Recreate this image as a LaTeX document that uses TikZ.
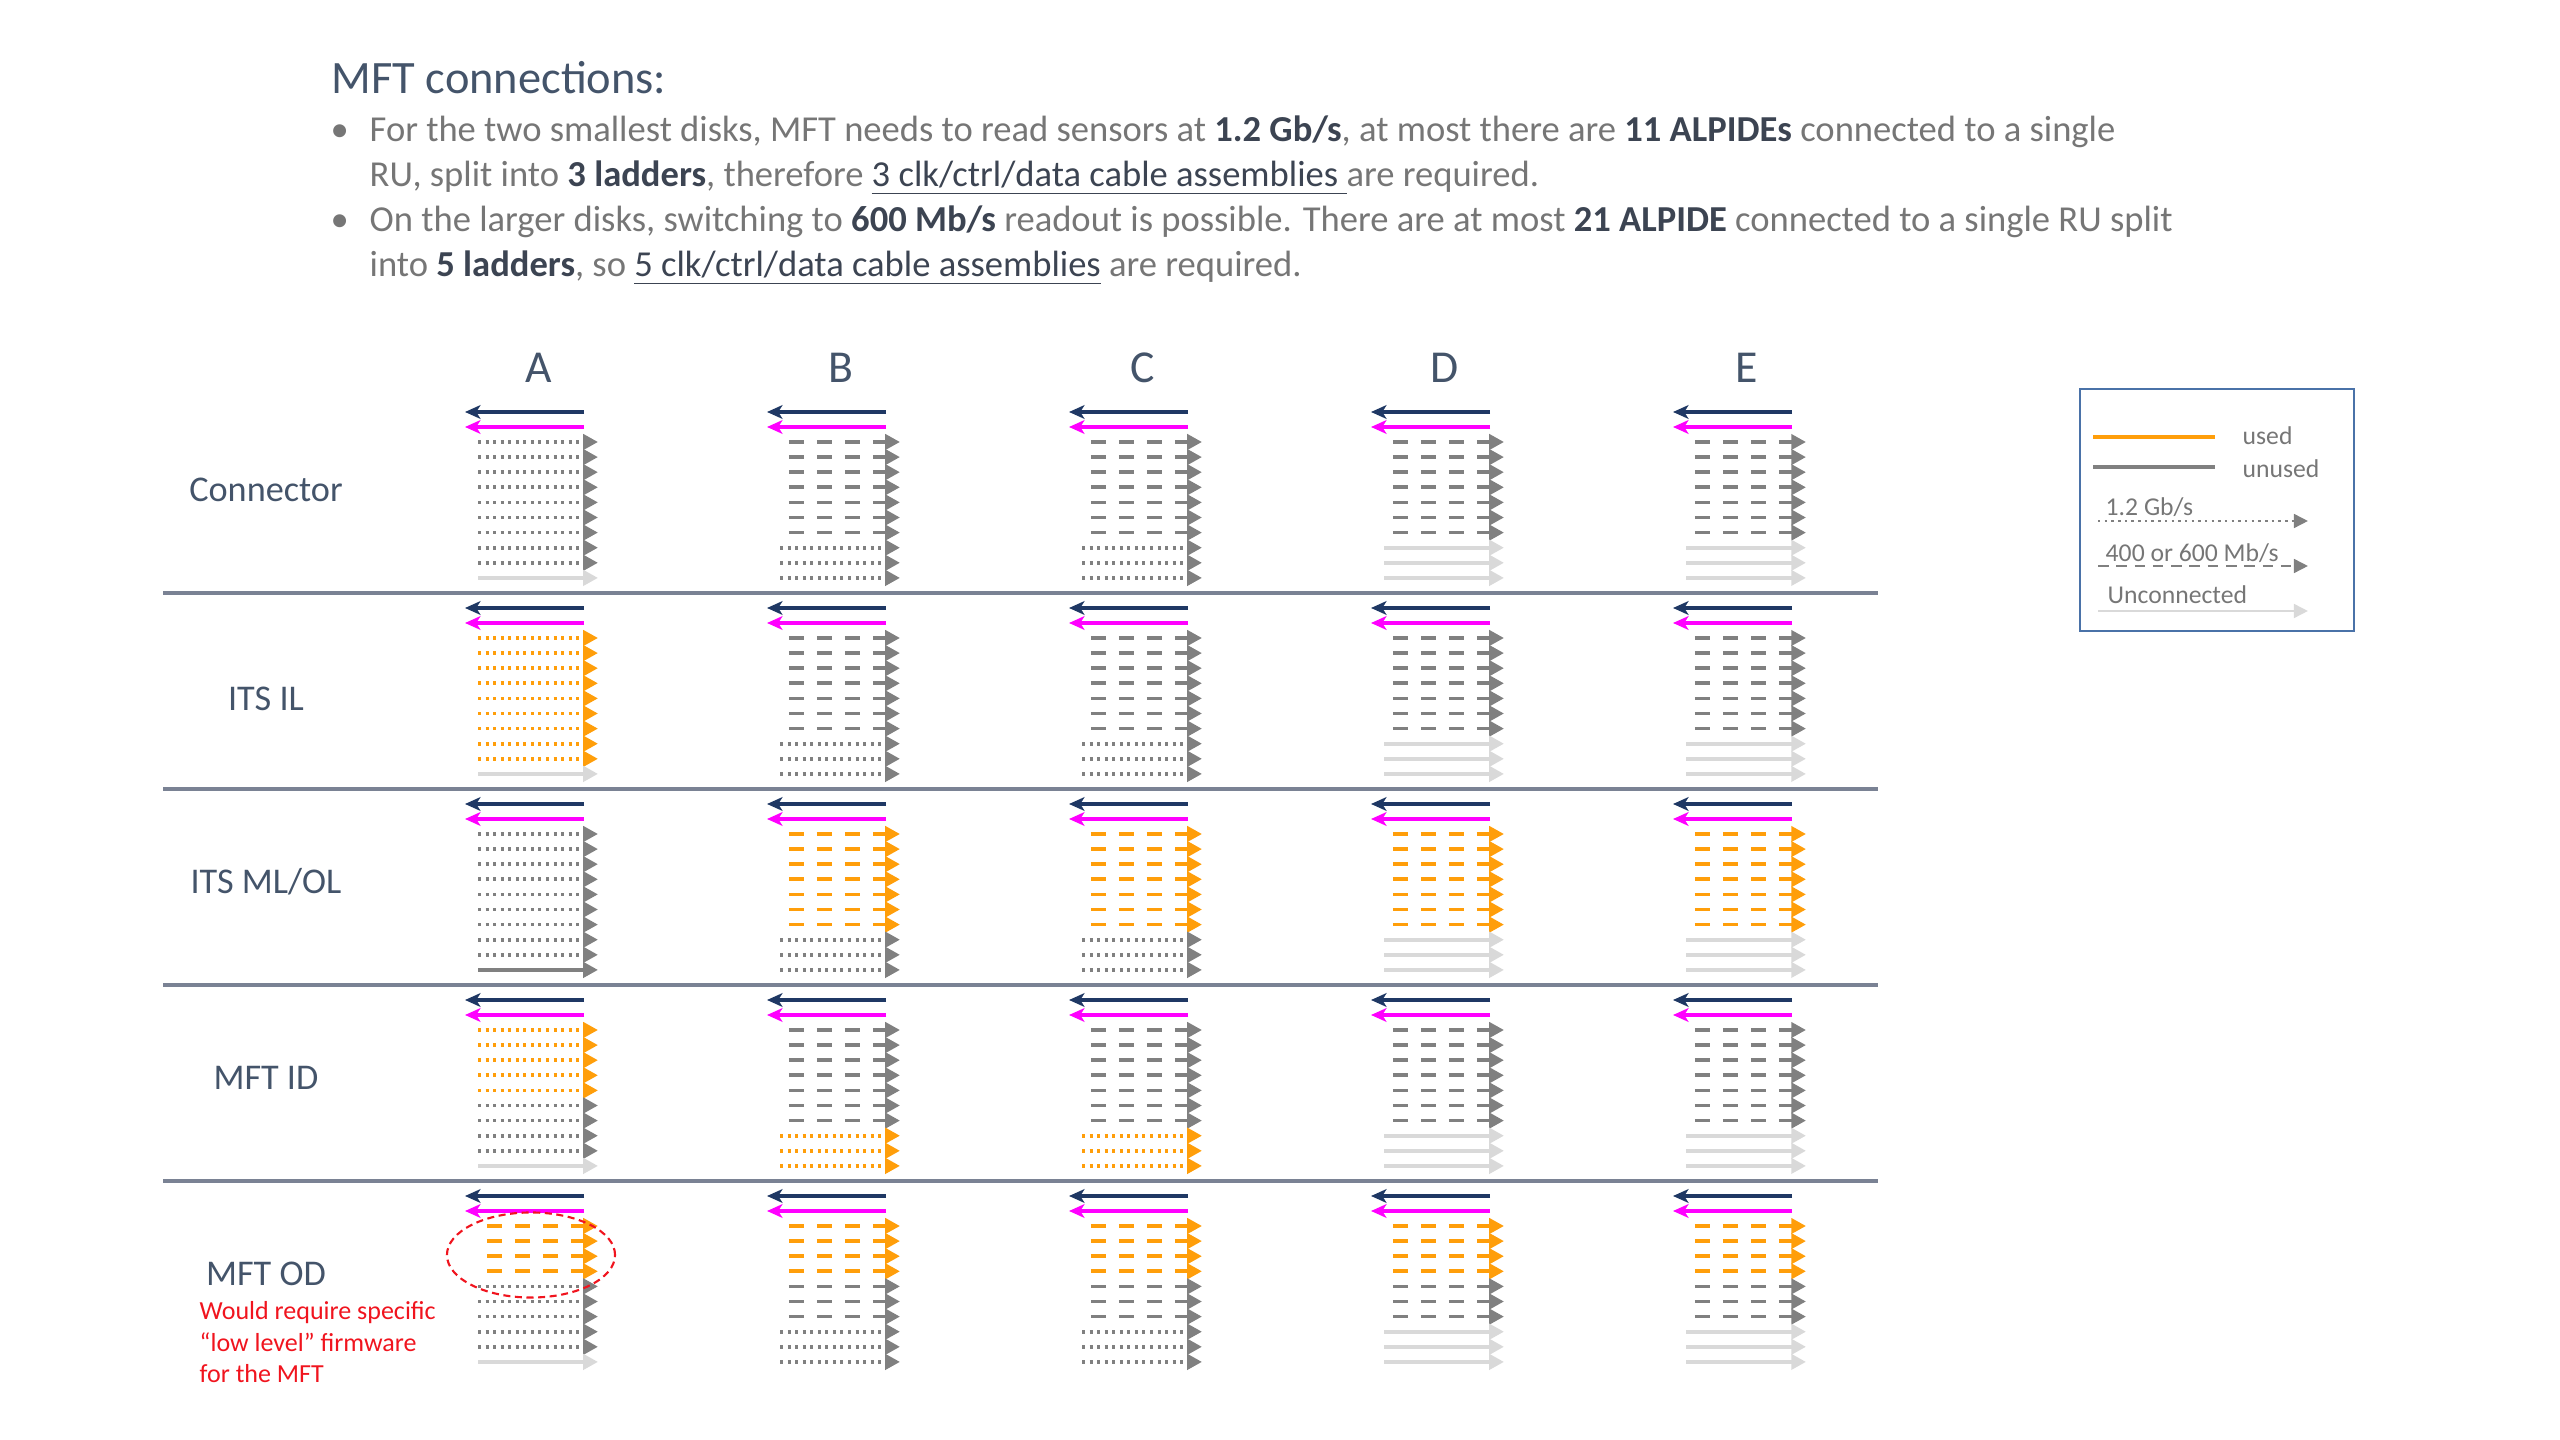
\documentclass[tikz,border=0pt]{standalone}
\usepackage{fontspec}
\setmainfont{Carlito}
\usetikzlibrary{arrows.meta,shapes.geometric}
\definecolor{cnavy}{RGB}{31,56,100}
\definecolor{cmag}{RGB}{255,0,255}
\definecolor{cgray}{RGB}{128,128,128}
\definecolor{clight}{RGB}{217,217,217}
\definecolor{corange}{RGB}{255,158,10}
\definecolor{csep}{RGB}{122,130,148}
\definecolor{ctitle}{RGB}{68,84,106}
\definecolor{ctext}{RGB}{118,118,118}
\definecolor{cdark}{RGB}{60,68,82}
\definecolor{cleg}{RGB}{74,114,168}
\definecolor{cred}{RGB}{240,20,30}
\newcommand{\myb}[1]{{\bfseries\color{cdark}#1}}
\newcommand{\myu}[1]{{\color{cdark}\underline{#1}}}
\newcommand{\mycell}[3]{%
  \pgfmathsetmacro{\xL}{465+302*#1}%
  \pgfmathsetmacro{\yT}{412+196*#2}%
  \coordinate (nv-#1-#2-s) at (\xL+119,\yT);
  \coordinate (nv-#1-#2-e) at (\xL,\yT);
  \draw[navyarr] (nv-#1-#2-s) -- (nv-#1-#2-e);
  \coordinate (mg-#1-#2-s) at (\xL+119,\yT+15);
  \coordinate (mg-#1-#2-e) at (\xL,\yT+15);
  \draw[magarr] (mg-#1-#2-s) -- (mg-#1-#2-e);
  \foreach \st [count=\k from 0] in {#3}{%
    \coordinate (ln-#1-#2-\k-s) at (\xL+13,\yT+30+15.1*\k);
    \coordinate (ln-#1-#2-\k-e) at (\xL+133,\yT+30+15.1*\k);
    \draw[\st] (ln-#1-#2-\k-s) -- (ln-#1-#2-\k-e);
  }%
}
\begin{document}
\begin{tikzpicture}[x=0.01cm,y=-0.01cm,
  basearr/.style={line width=1.05pt,-{Triangle[length=4.2pt,width=4.3pt]}},
  gD/.style={basearr,draw=cgray,dash pattern=on 0.85pt off 1.3pt},
  oD/.style={basearr,draw=corange,dash pattern=on 0.85pt off 1.3pt},
  gS/.style={basearr,draw=cgray,dash pattern=on 4.25pt off 3.7pt,shorten <=2.55pt},
  oS/.style={basearr,draw=corange,dash pattern=on 4.25pt off 3.7pt,shorten <=2.55pt},
  lU/.style={basearr,draw=clight},
  gU/.style={basearr,draw=cgray},
  navyarr/.style={draw=cnavy,line width=1.15pt,-{Stealth[length=4.4pt,width=3.9pt,inset=1.2pt]}},
  magarr/.style={draw=cmag,line width=1.15pt,-{Stealth[length=4.4pt,width=3.9pt,inset=1.2pt]}},
  sepline/.style={draw=csep,line width=1.1pt},
  rowlab/.style={text=ctitle,font=\fontsize{10.3}{12}\selectfont,inner sep=0pt},
  collab/.style={text=ctitle,font=\fontsize{13}{15}\selectfont,inner sep=0pt},
  bul/.style={anchor=base west,inner sep=0pt,text=ctext,font=\fontsize{10.4}{12}\selectfont},
  redtxt/.style={anchor=base west,inner sep=0pt,text=cred,font=\fontsize{7.4}{9}\selectfont},
  legtxt/.style={anchor=west,inner sep=0pt,text=ctext,font=\fontsize{7.3}{9}\selectfont},
  legarr/.style={line width=0.7pt,-{Triangle[length=4pt,width=3.9pt]}}
]
\useasboundingbox (0,0) rectangle (2560,1440);

% header
\node[anchor=base west,inner sep=0pt,text=ctitle,font=\fontsize{13.2}{15}\selectfont] (title) at (331,94) {MFT connections:};
\node[bul] (b1) at (330,142) {•};
\node[bul] (t1) at (369,142) {For the two smallest disks, MFT needs to read sensors at \myb{1.2 Gb/s}, at most there are \myb{11 ALPIDEs} connected to a single};
\node[bul] (t2) at (369,187) {RU, split into \myb{3 ladders}, therefore \myu{3 clk/ctrl/data cable assemblies }are required.};
\node[bul] (b3) at (330,232) {•};
\node[bul] (t3) at (369,232) {On the larger disks, switching to \myb{600 Mb/s} readout is possible. There are at most \myb{21 ALPIDE} connected to a single RU split};
\node[bul] (t4) at (369,277) {into \myb{5 ladders}, so \myu{5 clk/ctrl/data cable assemblies} are required.};

% column headers
\node[collab] (hA) at (539,368) {A};
\node[collab] (hB) at (841,368) {B};
\node[collab] (hC) at (1143,368) {C};
\node[collab] (hD) at (1445,368) {D};
\node[collab] (hE) at (1747,368) {E};

% row labels
\node[rowlab] (r0) at (266,490) {Connector};
\node[rowlab] (r1) at (266,699) {ITS IL};
\node[rowlab] (r2) at (266,882) {ITS ML/OL};
\node[rowlab] (r3) at (266,1078) {MFT ID};
\node[rowlab] (r4) at (266,1274) {MFT OD};
\node[redtxt] (n1) at (199,1319) {Would require specific};
\node[redtxt] (n2) at (199,1351) {“low level” firmware};
\node[redtxt] (n3) at (199,1382) {for the MFT};

% separators
\foreach \r in {0,...,3}{
  \pgfmathsetmacro{\ys}{593+196*\r}
  \coordinate (sp\r a) at (163,\ys);
  \coordinate (sp\r b) at (1878,\ys);
  \draw[sepline] (sp\r a) -- (sp\r b);
}

% Connector row
\mycell{0}{0}{gD,gD,gD,gD,gD,gD,gD,gD,gD,lU}
\mycell{1}{0}{gS,gS,gS,gS,gS,gS,gS,gD,gD,gD}
\mycell{2}{0}{gS,gS,gS,gS,gS,gS,gS,gD,gD,gD}
\mycell{3}{0}{gS,gS,gS,gS,gS,gS,gS,lU,lU,lU}
\mycell{4}{0}{gS,gS,gS,gS,gS,gS,gS,lU,lU,lU}
% ITS IL
\mycell{0}{1}{oD,oD,oD,oD,oD,oD,oD,oD,oD,lU}
\mycell{1}{1}{gS,gS,gS,gS,gS,gS,gS,gD,gD,gD}
\mycell{2}{1}{gS,gS,gS,gS,gS,gS,gS,gD,gD,gD}
\mycell{3}{1}{gS,gS,gS,gS,gS,gS,gS,lU,lU,lU}
\mycell{4}{1}{gS,gS,gS,gS,gS,gS,gS,lU,lU,lU}
% ITS ML/OL
\mycell{0}{2}{gD,gD,gD,gD,gD,gD,gD,gD,gD,gU}
\mycell{1}{2}{oS,oS,oS,oS,oS,oS,oS,gD,gD,gD}
\mycell{2}{2}{oS,oS,oS,oS,oS,oS,oS,gD,gD,gD}
\mycell{3}{2}{oS,oS,oS,oS,oS,oS,oS,lU,lU,lU}
\mycell{4}{2}{oS,oS,oS,oS,oS,oS,oS,lU,lU,lU}
% MFT ID
\mycell{0}{3}{oD,oD,oD,oD,oD,gD,gD,gD,gD,lU}
\mycell{1}{3}{gS,gS,gS,gS,gS,gS,gS,oD,oD,oD}
\mycell{2}{3}{gS,gS,gS,gS,gS,gS,gS,oD,oD,oD}
\mycell{3}{3}{gS,gS,gS,gS,gS,gS,gS,lU,lU,lU}
\mycell{4}{3}{gS,gS,gS,gS,gS,gS,gS,lU,lU,lU}
% MFT OD
\mycell{0}{4}{oS,oS,oS,oS,gD,gD,gD,gD,gD,lU}
\mycell{1}{4}{oS,oS,oS,oS,gS,gS,gS,gD,gD,gD}
\mycell{2}{4}{oS,oS,oS,oS,gS,gS,gS,gD,gD,gD}
\mycell{3}{4}{oS,oS,oS,oS,gS,gS,gS,lU,lU,lU}
\mycell{4}{4}{oS,oS,oS,oS,gS,gS,gS,lU,lU,lU}

% red dashed ellipse
\node[ellipse,draw=cred,line width=0.6pt,dash pattern=on 2pt off 1.3pt,minimum width=1.68cm,minimum height=0.85cm,inner sep=0pt] (oval) at (531,1255) {};

% legend
\node[draw=cleg,line width=0.7pt,minimum width=2.74cm,minimum height=2.42cm,inner sep=0pt] (legbox) at (2217,510) {};
\coordinate (lo1) at (2093,437); \coordinate (lo2) at (2215,437);
\draw[draw=corange,line width=0.9pt] (lo1) -- (lo2);
\coordinate (lg1) at (2093,467); \coordinate (lg2) at (2215,467);
\draw[draw=cgray,line width=0.9pt] (lg1) -- (lg2);
\node[legtxt] (lused) at (2242,436) {used};
\node[legtxt] (lunused) at (2242,469) {unused};
\node[legtxt] (l12) at (2105,507) {1.2 Gb/s};
\coordinate (ld1) at (2098,521); \coordinate (ld2) at (2308,521);
\draw[legarr,draw=cgray,dash pattern=on 0.7pt off 1.2pt] (ld1) -- (ld2);
\node[legtxt] (l46) at (2105,553) {400 or 600 Mb/s};
\coordinate (ls1) at (2098,566); \coordinate (ls2) at (2308,566);
\draw[legarr,draw=cgray,dash pattern=on 3pt off 2.2pt] (ls1) -- (ls2);
\node[legtxt] (lun) at (2107,595) {Unconnected};
\coordinate (lu1) at (2098,611); \coordinate (lu2) at (2308,611);
\draw[legarr,draw=clight] (lu1) -- (lu2);
\end{tikzpicture}
\end{document}
